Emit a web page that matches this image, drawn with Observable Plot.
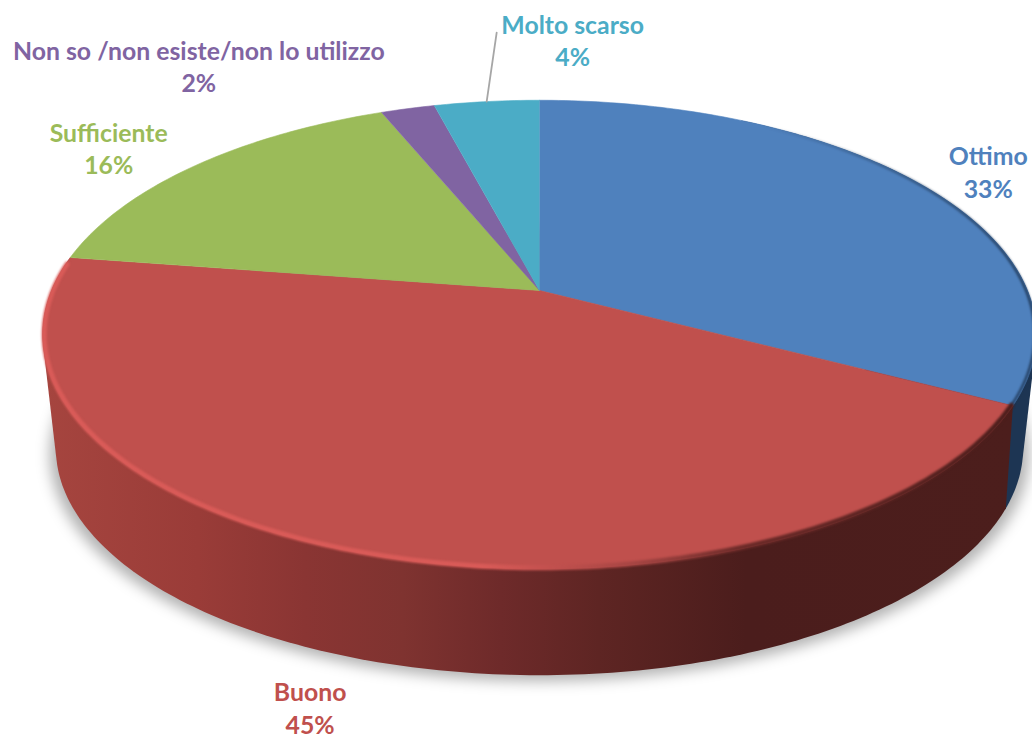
<!DOCTYPE html>
<html><head><meta charset="utf-8">
<script src="https://cdn.jsdelivr.net/npm/d3@7"></script>
<script src="https://cdn.jsdelivr.net/npm/@observablehq/plot@0.6"></script>
<style>html,body{margin:0;background:#fff}svg{display:block}</style>
</head><body><div id="chart"></div>
<script>
const categories = ["Ottimo", "Buono", "Sufficiente", "Non so /non esiste/non lo utilizzo", "Molto scarso"];
const shares = [32.7, 44.7, 16.4, 2.1, 4.1];
const percentLabels = ["33%", "45%", "16%", "2%", "4%"];
const sliceColors = ["#4f81bd", "#c0504d", "#9bbb59", "#8064a2", "#4bacc6"];

// Perspective of the disc
const topDisc = {x0: 539, y0: 290, a: 488, b: 226, k: 0.188};
const baseDisc = {x0: 539, y0: 405, a: 475, b: 219, k: 0.188};
const project = (d, pct, inset = 1) => {
  const t = pct / 100 * 2 * Math.PI;
  const u = Math.sin(t) * inset, v = -Math.cos(t) * inset, w = 1 - d.k * v;
  return [d.x0 + d.a * u / w, d.y0 + d.b * v / w];
};
const arc = (from, to, step = 0.25) => {
  const n = Math.max(2, Math.ceil((to - from) / step));
  return d3.range(n + 1).map(i => from + (to - from) * i / n);
};
let acc = 0;
const slices = categories.map((c, i) => {
  const s = {category: c, from: acc, to: acc + shares[i], label: percentLabels[i]};
  acc += shares[i];
  return s;
});
const sliceRows = slices.flatMap(s => [
  {category: s.category, x: topDisc.x0, y: topDisc.y0},
  ...arc(s.from, s.to).map(p => {
    const [x, y] = project(topDisc, p);
    return {category: s.category, x, y};
  })
]);
// side wall: convex outline of the upper and lower rim between two shares
const wallHull = (topFrom, topTo, baseFrom, baseTo) => {
  const hull = d3.polygonHull([
    ...arc(topFrom, topTo).map(p => project(topDisc, p)),
    ...arc(baseFrom, baseTo).map(p => project(baseDisc, p))
  ]);
  return [...hull, hull[0]].map(([x, y]) => ({x, y}));
};
const rimRows = (d, from, to, inset) => arc(from, to).map(p => {
  const [x, y] = project(d, p, inset);
  return {x, y};
});
const boundary = slices[0].to, redEnd = slices[1].to, baseSeam = boundary - 0.6;
// text placement relative to each slice's rim midpoint
const labelShift = [[68, -13], [-44, 155], [-87, -18], [-209, -43], [86, -62]];
const labels = slices.map((s, i) => {
  const [x, y] = project(topDisc, (s.from + s.to) / 2);
  return {category: s.category, text: `${s.category}\n${s.label}`, x: x + labelShift[i][0], y: y + labelShift[i][1]};
});
const leaderFrom = project(topDisc, (slices[4].from + slices[4].to) / 2);
const leader = [
  {x: leaderFrom[0], y: leaderFrom[1]},
  {x: leaderFrom[0] + 10, y: leaderFrom[1] - 69}
];

const chart = Plot.plot({
  width: 1032, height: 740, margin: 0,
  x: {domain: [0, 1032], range: [0, 1032], axis: null},
  y: {domain: [0, 740], range: [0, 740], axis: null},
  color: {domain: categories, range: sliceColors},
  marks: [
    // soft shadow
    Plot.line(rimRows({...baseDisc, y0: baseDisc.y0 + 6, a: baseDisc.a + 6}, 0, 100, 1), {
      x: "x", y: "y", fill: "#000", stroke: "none", fillOpacity: 0.3, imageFilter: "blur(7px)"
    }),
    // side walls
    Plot.line(wallHull(8, boundary + 0.2, 8, baseSeam + 0.1), {x: "x", y: "y", fill: "#1d3553", stroke: "none"}),
    Plot.line(wallHull(boundary, redEnd, baseSeam, redEnd), {x: "x", y: "y", fill: "url(#redWall)", stroke: "none"}),
    // top face
    Plot.line(sliceRows, {x: "x", y: "y", z: "category", fill: "category", stroke: "category", strokeWidth: 0.6}),
    // bevel
    Plot.line(rimRows(topDisc, 8, boundary, 0.997), {x: "x", y: "y", stroke: "url(#blueEdge)", strokeWidth: 2.5, imageFilter: "blur(1.2px)"}),
    Plot.line(rimRows(topDisc, boundary, redEnd - 0.5, 0.997), {x: "x", y: "y", stroke: "url(#bevel)", strokeWidth: 5, imageFilter: "blur(1.2px)"}),
    // leader
    Plot.line(leader, {x: "x", y: "y", stroke: "#a6a6a6", strokeWidth: 1.8}),
    // labels
    Plot.text(labels, {
      x: "x", y: "y", text: "text", fill: "category", fontFamily: "Lato", fontWeight: 700,
      fontSize: 24.8, lineHeight: 1.32, textAnchor: "middle"
    })
  ]
});

const stops = (id, x1, x2, list) => {
  const g = d3.select(chart).append("defs").append("linearGradient")
    .attr("id", id).attr("gradientUnits", "userSpaceOnUse")
    .attr("x1", x1).attr("x2", x2).attr("y1", 0).attr("y2", 0);
  list.forEach(([o, c, a = 1]) => g.append("stop").attr("offset", o).attr("stop-color", c).attr("stop-opacity", a));
};
stops("redWall", 40, 1020, [[0, "#a6453f"], [0.16, "#9a3c38"], [0.27, "#8a3533"], [0.37, "#7f3330"], [0.47, "#6e2a2a"], [0.57, "#5e2523"], [0.72, "#4b1d1c"], [1, "#4c1e1c"]]);
stops("bevel", 40, 1020, [[0, "#d95b58"], [0.45, "#d95b58"], [0.6, "#a84644"], [0.72, "#6b2a28"], [1, "#4c1e1c"]]);
stops("blueEdge", 760, 1030, [[0, "#1d3553", 0], [0.5, "#1d3553", 0.5], [1, "#1d3553", 0.9]]);
document.getElementById("chart").append(chart);
</script></body></html>
